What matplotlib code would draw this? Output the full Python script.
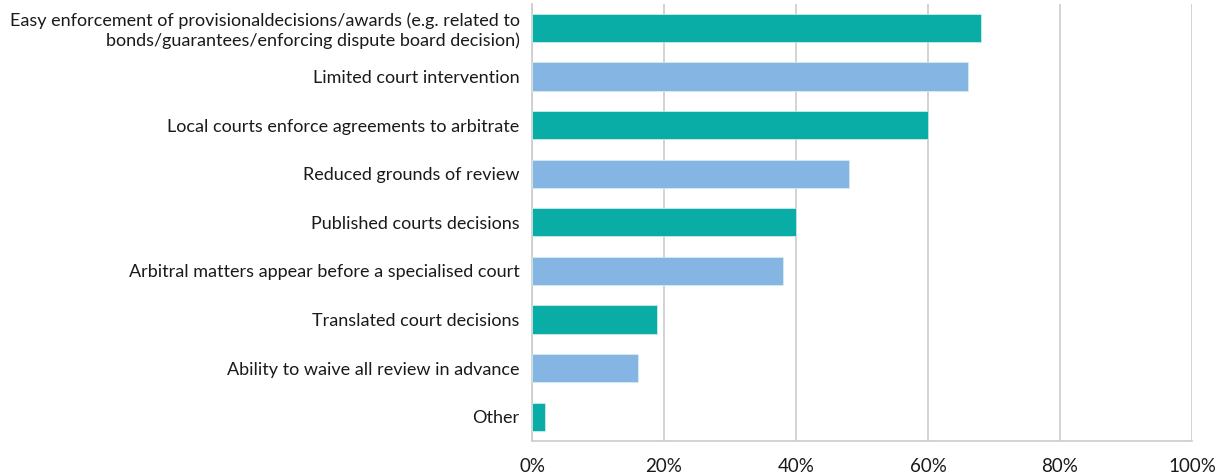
import matplotlib.pyplot as plt
from matplotlib.ticker import PercentFormatter

plt.rcParams['font.family'] = ['Lato', 'DejaVu Sans']

# categories top to bottom
categories = [
    "Easy enforcement of provisionaldecisions/awards (e.g. related to\nbonds/guarantees/enforcing dispute board decision)",
    "Limited court intervention",
    "Local courts enforce agreements to arbitrate",
    "Reduced grounds of review",
    "Published courts decisions",
    "Arbitral matters appear before a specialised court",
    "Translated court decisions",
    "Ability to waive all review in advance",
    "Other",
]
values = [68, 66, 60, 48, 40, 38, 19, 16, 2]
teal = "#0aada6"
light_blue = "#85b6e3"
colors = [teal if i % 2 == 0 else light_blue for i in range(len(values))]

fig = plt.figure(figsize=(12.21, 4.75), dpi=100)
ax = fig.add_axes([532 / 1221, 1 - 441 / 475, 660 / 1221, 437.3 / 475])

ypos = list(range(len(values)))[::-1]
ax.barh(ypos, values, height=0.58, color=colors, edgecolor="#d8f0ee", linewidth=0.5, zorder=3)

ax.set_xlim(0, 100)
ax.set_ylim(-0.5, len(values) - 0.5)
ax.set_xticks([0, 20, 40, 60, 80, 100])
ax.xaxis.set_major_formatter(PercentFormatter(decimals=0))
ax.set_yticks(ypos)
ax.set_yticklabels(categories, fontsize=13, color="#1a1a1a", linespacing=1.2)
ax.tick_params(axis="x", labelsize=13.5, colors="#1a1a1a", length=0, pad=12)
ax.tick_params(axis="y", length=0, pad=9)

ax.grid(axis="x", color="#cccccc", linewidth=1.2, zorder=0)
for s in ["top", "right"]:
    ax.spines[s].set_visible(False)
for s in ["left", "bottom"]:
    ax.spines[s].set_color("#cccccc")
    ax.spines[s].set_linewidth(1.2)

fig.savefig("out.png", dpi=100)
